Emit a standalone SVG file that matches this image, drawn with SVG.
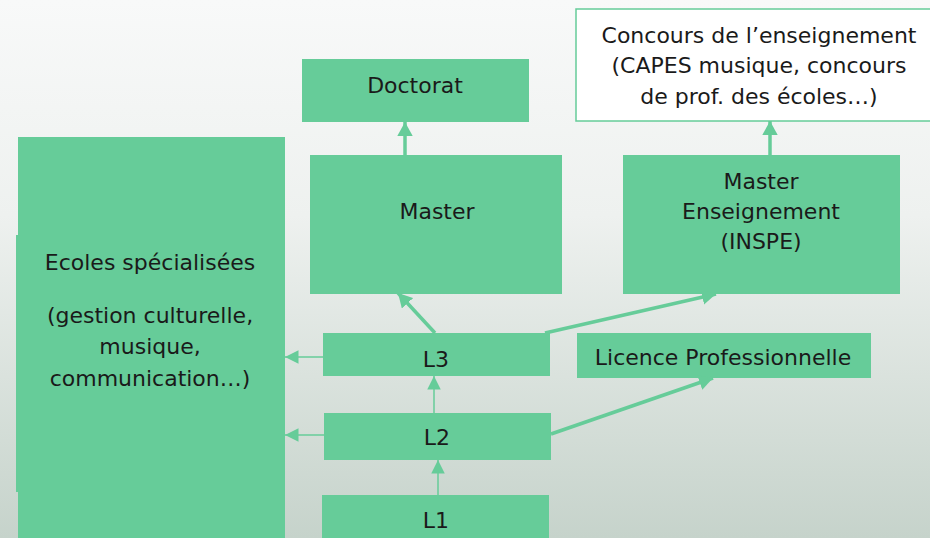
<svg xmlns="http://www.w3.org/2000/svg" width="930" height="538" viewBox="0 0 930 538">
<defs>
<linearGradient id="bg" x1="0" y1="0" x2="0" y2="1">
<stop offset="0" stop-color="#f8f9f9"/>
<stop offset="0.4" stop-color="#eef1ef"/>
<stop offset="1" stop-color="#c6d3cb"/>
</linearGradient>
<marker id="ah" markerWidth="4" markerHeight="4.4" refX="4" refY="2.2" orient="auto" markerUnits="strokeWidth">
<path d="M0,0 L4,2.2 L0,4.4 z" fill="#66cc99"/>
</marker>
<marker id="ahs" markerWidth="9" markerHeight="9" refX="9" refY="4.5" orient="auto" markerUnits="strokeWidth">
<path d="M0,0 L9,4.5 L0,9 z" fill="#66cc99"/>
</marker>
</defs>
<style>
.box{fill:#66cc99}
.wbox{fill:#ffffff;stroke:#66cc99;stroke-width:1.5}
text{font-family:"DejaVu Sans","Liberation Sans",sans-serif;font-size:22px;fill:#1a1a1a;text-anchor:middle}
.thick{stroke:#66cc99;stroke-width:3.5;fill:none;marker-end:url(#ah)}
.thin{stroke:#66cc99;stroke-width:1.5;fill:none;marker-end:url(#ahs)}
</style>
<rect x="0" y="0" width="930" height="538" fill="url(#bg)"/>

<g id="ecoles">
<rect class="box" x="18" y="137" width="267" height="401"/>
<rect class="box" x="16" y="235" width="269" height="257"/>
<text x="150" y="270">Ecoles spécialisées</text>
<text x="150" y="323">(gestion culturelle,</text>
<text x="150" y="354">musique,</text>
<text x="150" y="386">communication…)</text>
</g>

<g id="doctorat">
<rect class="box" x="302" y="59" width="227" height="63"/>
<text x="415" y="93">Doctorat</text>
</g>

<g id="concours">
<rect class="wbox" x="576" y="9" width="360" height="112"/>
<text x="759" y="43">Concours de l’enseignement</text>
<text x="759" y="73">(CAPES musique, concours</text>
<text x="759" y="104">de prof. des écoles…)</text>
</g>

<g id="master">
<rect class="box" x="310" y="155" width="252" height="139"/>
<text x="437" y="219">Master</text>
</g>

<g id="master-ens">
<rect class="box" x="623" y="155" width="277" height="139"/>
<text x="761" y="189">Master</text>
<text x="761" y="219">Enseignement</text>
<text x="761" y="249">(INSPE)</text>
</g>

<g id="l3">
<rect class="box" x="323" y="333" width="227" height="43"/>
<text x="436" y="367">L3</text>
</g>

<g id="licence-pro">
<rect class="box" x="577" y="333" width="294" height="45"/>
<text x="723" y="365">Licence Professionnelle</text>
</g>

<g id="l2">
<rect class="box" x="324" y="413" width="227" height="47"/>
<text x="437" y="445">L2</text>
</g>

<g id="l1">
<rect class="box" x="322" y="495" width="227" height="43"/>
<text x="436" y="528">L1</text>
</g>

<g id="connectors">
<line class="thin" x1="438" y1="495" x2="438" y2="460"/>
<line class="thin" x1="434" y1="413" x2="434" y2="376"/>
<line class="thin" x1="323" y1="357" x2="285" y2="357"/>
<line class="thin" x1="324" y1="435" x2="285" y2="435"/>
<line class="thick" x1="435" y1="333" x2="398" y2="293"/>
<line class="thick" x1="545" y1="333" x2="716" y2="294"/>
<line class="thick" x1="551" y1="434" x2="713" y2="378"/>
<line class="thick" x1="405" y1="155" x2="405" y2="122"/>
<line class="thick" x1="770" y1="155" x2="770" y2="121"/>
</g>
</svg>
